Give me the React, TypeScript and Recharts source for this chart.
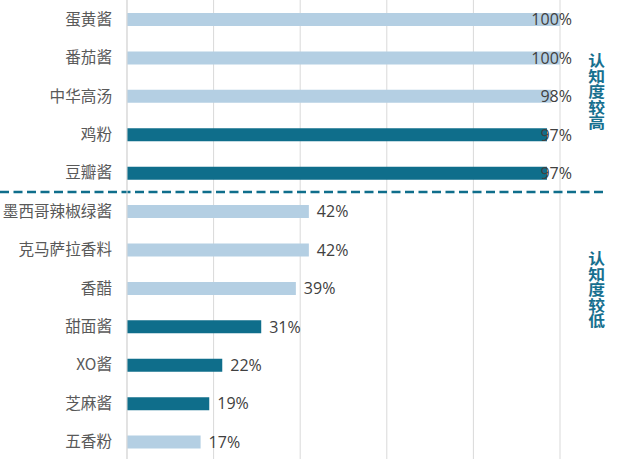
import React from "react";
import { BarChart, Bar, XAxis, YAxis, CartesianGrid, Cell, LabelList, ReferenceLine } from "recharts";

const categories = ["蛋黄酱", "番茄酱", "中华高汤", "鸡粉", "豆瓣酱", "墨西哥辣椒绿酱", "克马萨拉香料", "香醋", "甜面酱", "XO酱", "芝麻酱", "五香粉"];
const values = [100, 100, 98, 97, 97, 42, 42, 39, 31, 22, 19, 17];
const highlighted = [false, false, false, true, true, false, false, false, true, true, true, false];
const xTicks = [0, 20, 40, 60, 80, 100];
const groupLabels = ["认知度较高", "认知度较低"];
const dividerAfter = "豆瓣酱";

const LIGHT = "#b4cfe3";
const DARK = "#0f6e8b";
const TEAL = "#17708f";

const data = categories.map((name, i) => ({ name, value: values[i], hi: highlighted[i] }));

const W = 620;
const H = 461;
const PLOT_RIGHT = 560;
const LABEL_MAX = 572;
const VALUE_FONT = "'Open Sans', 'Noto Sans CJK SC', sans-serif";

const ValueLabel = (props: any) => {
  const { x, y, width, height, value } = props;
  const text = `${value}%`;
  const approx = text.length * 9.5;
  const end = x + width;
  const cy = y + height / 2;
  const clamp = end + 8 + approx > LABEL_MAX;
  return (
    <text
      x={clamp ? LABEL_MAX : end + 8}
      y={cy}
      dy="0.36em"
      textAnchor={clamp ? "end" : "start"}
      fontSize={16}
      fill="#404040"
      fontFamily={VALUE_FONT}
    >
      {text}
    </text>
  );
};

const DividerShape = (props: any) => {
  const { y1 } = props;
  const band = H / categories.length;
  const y = y1 + band / 2;
  return <line x1={0} x2={603} y1={y} y2={y} stroke={DARK} strokeWidth={2.5} strokeDasharray="9 4.5" />;
};

const VerticalLabel = ({ text, top }: { text: string; top: number }) => (
  <div
    style={{
      position: "absolute",
      left: 586,
      top,
      width: 20,
      color: TEAL,
      fontFamily: "'Noto Sans CJK SC', sans-serif",
      fontWeight: 700,
      fontSize: 15,
      lineHeight: "20px",
      letterSpacing: "0.5px",
      writingMode: "vertical-rl",
      textOrientation: "upright",
      transform: "scaleX(1.12)",
    }}
  >
    {text}
  </div>
);

export default function App() {
  return (
    <div style={{ position: "absolute", left: 0, top: 0, width: W, height: 459, overflow: "hidden", background: "#fff" }}>
      <BarChart
        width={W}
        height={H}
        data={data}
        layout="vertical"
        margin={{ top: 0, right: W - PLOT_RIGHT, bottom: 0, left: 0 }}
        barCategoryGap={0}
      >
        <CartesianGrid horizontal={false} vertical={true} stroke="#d9d9d9" verticalValues={xTicks} />
        <XAxis type="number" domain={[0, 100]} ticks={xTicks} hide />
        <YAxis
          type="category"
          dataKey="name"
          width={127}
          tickLine={false}
          axisLine={{ stroke: "#d9d9d9" }}
          tickSize={0}
          tickMargin={15}
          tick={{ fontSize: 15.6, fill: "#595959", fontFamily: "'Noto Sans CJK SC', sans-serif" }}
          interval={0}
        />
        <Bar dataKey="value" barSize={13} isAnimationActive={false}>
          {data.map((d, i) => (
            <Cell key={i} fill={d.hi ? DARK : LIGHT} />
          ))}
          <LabelList dataKey="value" content={<ValueLabel />} />
        </Bar>
        <ReferenceLine y={dividerAfter} ifOverflow="visible" shape={<DividerShape />} />
      </BarChart>
      <VerticalLabel text={groupLabels[0]} top={53} />
      <VerticalLabel text={groupLabels[1]} top={251} />
    </div>
  );
}
